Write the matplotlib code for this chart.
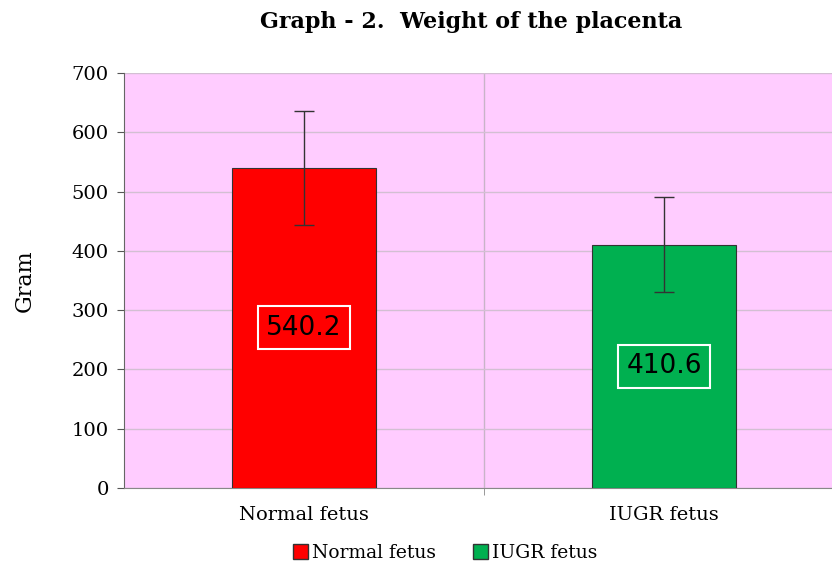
import matplotlib
matplotlib.use("Agg")
import matplotlib.pyplot as plt
from matplotlib.patches import Patch

categories = ["Normal fetus", "IUGR fetus"]
means = [540.2, 410.6]
sds = [96.5, 80.5]
colors = ["#FF0000", "#00B050"]
yticks = [0, 100, 200, 300, 400, 500, 600, 700]

plt.rcParams['font.family'] = ['DejaVu Serif']

fig = plt.figure(figsize=(8.32, 5.65), dpi=100)
ax = fig.add_axes([124/832, 1-488/565, 720/832, 415/565])
ax.set_facecolor("#FFCCFF")
x = list(range(len(categories)))
ax.bar(x, means, width=0.4, color=colors, edgecolor="#333333", linewidth=0.8, zorder=3)
ax.errorbar(x, means, yerr=sds, fmt='none', ecolor="#333333", elinewidth=1, capsize=7, capthick=1, zorder=4)
for xi, m in zip(x, means):
    ax.text(xi, m/2, f"{m}", ha='center', va='center', fontsize=19, family='DejaVu Sans', color='black', zorder=5,
            bbox=dict(boxstyle='square,pad=0.32', facecolor='none', edgecolor='white', linewidth=1.5))
ax.set_xlim(-0.5, 1.5)
ax.set_ylim(0, 700)
ax.set_yticks(yticks)
ax.set_yticklabels([str(t) for t in yticks], fontsize=14)
ax.set_xticks(x)
ax.set_xticklabels(categories, fontsize=14)
ax.set_xticks([0.5, 1.5], minor=True)
ax.tick_params(axis='x', which='major', length=0, pad=13)
ax.tick_params(axis='x', which='minor', length=5, color='#888888', direction='out')
ax.tick_params(axis='y', length=5, color='#555555', pad=6)
ax.grid(axis='y', color='#D3BFD3', linewidth=1, zorder=0)
ax.grid(axis='x', which='minor', color='#C8B4C8', linewidth=1, zorder=0)
for s in ['top', 'right']:
    ax.spines[s].set_visible(False)
ax.spines['left'].set_color('#666666')
ax.spines['bottom'].set_color('#888888')
ax.set_ylabel("Gram", fontsize=16, labelpad=26)
fig.text(0.566, 0.961, "Graph - 2.  Weight of the placenta", ha='center', va='center', fontsize=16, fontweight='bold')
handles = [Patch(facecolor=c, edgecolor='#333333', label=l) for c, l in zip(colors, categories)]
fig.legend(handles=handles, loc='center', bbox_to_anchor=(0.535, 0.021), ncol=2, frameon=False, fontsize=13.5,
           handlelength=0.8, handleheight=0.8, handletextpad=0.2, columnspacing=2.0)
fig.savefig("out.png", dpi=100)
